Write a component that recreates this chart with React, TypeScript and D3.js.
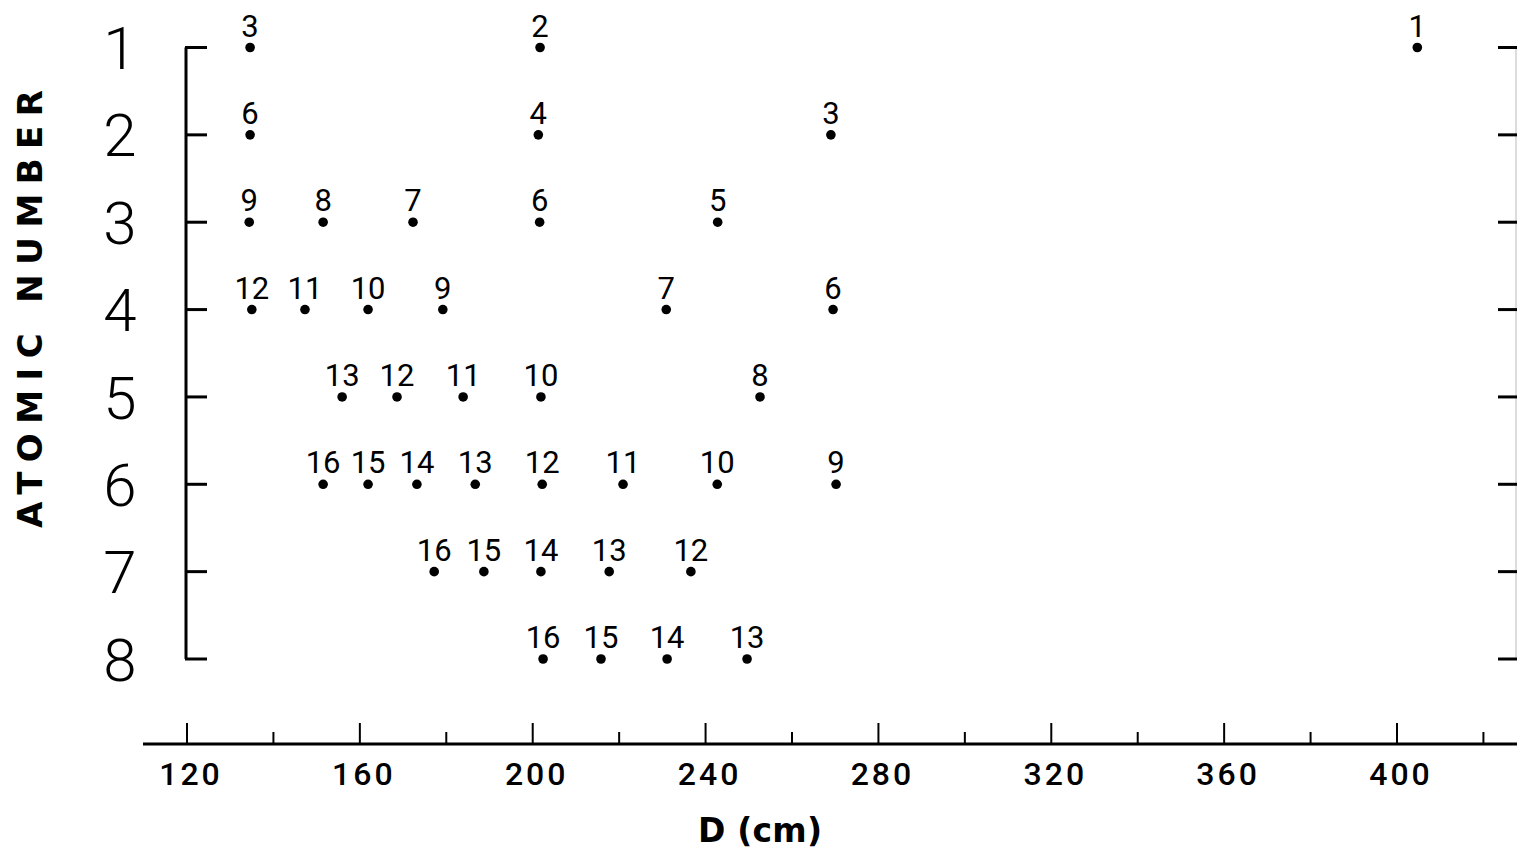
import React, { useEffect, useRef } from "react";
import * as d3 from "d3";

// atomic number (Z), distance D (cm) and mass number label of each isotope
const pointZ = [
  1, 1, 1,
  2, 2, 2,
  3, 3, 3, 3, 3,
  4, 4, 4, 4, 4, 4,
  5, 5, 5, 5, 5,
  6, 6, 6, 6, 6, 6, 6, 6,
  7, 7, 7, 7, 7,
  8, 8, 8, 8,
];
const pointD = [
  134.6, 201.7, 404.7,
  134.6, 201.3, 269.0,
  134.4, 151.5, 172.3, 201.6, 242.8,
  135.0, 147.3, 161.9, 179.2, 230.9, 269.5,
  155.9, 168.6, 183.9, 201.9, 252.6,
  151.5, 161.9, 173.2, 186.7, 202.2, 220.9, 242.7, 270.2,
  177.2, 188.7, 201.9, 217.7, 236.6,
  202.4, 215.8, 231.1, 249.6,
];
const pointA = [
  "3", "2", "1",
  "6", "4", "3",
  "9", "8", "7", "6", "5",
  "12", "11", "10", "9", "7", "6",
  "13", "12", "11", "10", "8",
  "16", "15", "14", "13", "12", "11", "10", "9",
  "16", "15", "14", "13", "12",
  "16", "15", "14", "13",
];

const zTicks = [1, 2, 3, 4, 5, 6, 7, 8];
const dMajorTicks = [120, 160, 200, 240, 280, 320, 360, 400];
const dMinorTicks = [140, 180, 220, 260, 300, 340, 380, 420];

const App = () => {
  const chartRef = useRef(null);

  useEffect(() => {
    const root = d3.select(chartRef.current);
    root.selectAll("*").remove();

    const width = 1517;
    const height = 851;
    const axisY = 744;

    const svg = root
      .append("svg")
      .attr("width", width)
      .attr("height", height)
      .style("position", "absolute")
      .style("left", 0)
      .style("top", 0)
      .style("background", "#fff");

    const x = d3.scaleLinear().domain([120, 400]).range([187, 1397]);
    const y = d3.scaleLinear().domain([1, 8]).range([47.5, 659]);

    // bottom axis line + ticks pointing up
    svg
      .append("line")
      .attr("x1", 143)
      .attr("x2", width)
      .attr("y1", axisY)
      .attr("y2", axisY)
      .attr("stroke", "#000")
      .attr("stroke-width", 3);

    svg
      .selectAll(".major")
      .data(dMajorTicks)
      .enter()
      .append("line")
      .attr("x1", (d) => x(d))
      .attr("x2", (d) => x(d))
      .attr("y1", axisY)
      .attr("y2", axisY - 21)
      .attr("stroke", "#000")
      .attr("stroke-width", 2);

    svg
      .selectAll(".minor")
      .data(dMinorTicks)
      .enter()
      .append("line")
      .attr("x1", (d) => x(d))
      .attr("x2", (d) => x(d))
      .attr("y1", axisY)
      .attr("y2", axisY - 12)
      .attr("stroke", "#000")
      .attr("stroke-width", 2);

    svg
      .selectAll(".dlabel")
      .data(dMajorTicks)
      .enter()
      .append("text")
      .attr("x", (d) => x(d) + 4)
      .attr("y", 785)
      .attr("text-anchor", "middle")
      .style("font-family", "Roboto, 'DejaVu Sans', sans-serif")
      .style("font-weight", 500)
      .style("font-size", "32px")
      .style("letter-spacing", "3px")
      .text((d) => d);

    svg
      .append("text")
      .attr("x", 698)
      .attr("y", 842)
      .attr("textLength", 124)
      .attr("lengthAdjust", "spacing")
      .style("font-family", "'DejaVu Sans', sans-serif")
      .style("font-weight", "bold")
      .style("font-size", "33px")
      .text("D (cm)");

    // left bracket axis
    svg
      .append("line")
      .attr("x1", 186)
      .attr("x2", 186)
      .attr("y1", y(1))
      .attr("y2", y(8))
      .attr("stroke", "#000")
      .attr("stroke-width", 3);

    svg
      .selectAll(".ltick")
      .data(zTicks)
      .enter()
      .append("line")
      .attr("x1", 185)
      .attr("x2", 207)
      .attr("y1", (d) => y(d))
      .attr("y2", (d) => y(d))
      .attr("stroke", "#000")
      .attr("stroke-width", 3);

    // right edge ticks
    svg
      .append("line")
      .attr("x1", 1516)
      .attr("x2", 1516)
      .attr("y1", y(1))
      .attr("y2", y(8))
      .attr("stroke", "#bbb")
      .attr("stroke-width", 1);

    svg
      .selectAll(".rtick")
      .data(zTicks)
      .enter()
      .append("line")
      .attr("x1", 1498)
      .attr("x2", width)
      .attr("y1", (d) => y(d))
      .attr("y2", (d) => y(d))
      .attr("stroke", "#000")
      .attr("stroke-width", 3);

    svg
      .selectAll(".zlabel")
      .data(zTicks)
      .enter()
      .append("text")
      .attr("x", 120)
      .attr("y", (d) => y(d))
      .attr("dy", "0.36em")
      .attr("text-anchor", "middle")
      .style("font-family", "Roboto, 'DejaVu Sans', sans-serif")
      .style("font-weight", 300)
      .style("font-size", "60px")
      .text((d) => d);

    svg
      .append("text")
      .attr("transform", "translate(42,528) rotate(-90)")
      .attr("textLength", 438)
      .attr("lengthAdjust", "spacing")
      .style("font-family", "'DejaVu Sans', sans-serif")
      .style("font-weight", "bold")
      .style("font-size", "34px")
      .text("ATOMIC NUMBER");

    // isotope points with mass number labels
    const idx = d3.range(pointZ.length);

    svg
      .selectAll(".dot")
      .data(idx)
      .enter()
      .append("circle")
      .attr("cx", (i) => x(pointD[i]))
      .attr("cy", (i) => y(pointZ[i]))
      .attr("r", 4.8)
      .attr("fill", "#000");

    svg
      .selectAll(".alabel")
      .data(idx)
      .enter()
      .append("text")
      .attr("x", (i) => x(pointD[i]))
      .attr("y", (i) => y(pointZ[i]) - 11)
      .attr("text-anchor", "middle")
      .style("font-family", "Roboto, 'DejaVu Sans', sans-serif")
      .style("font-size", "31px")
      .text((i) => pointA[i]);
  }, []);

  return <div ref={chartRef}></div>;
};

export default App;
